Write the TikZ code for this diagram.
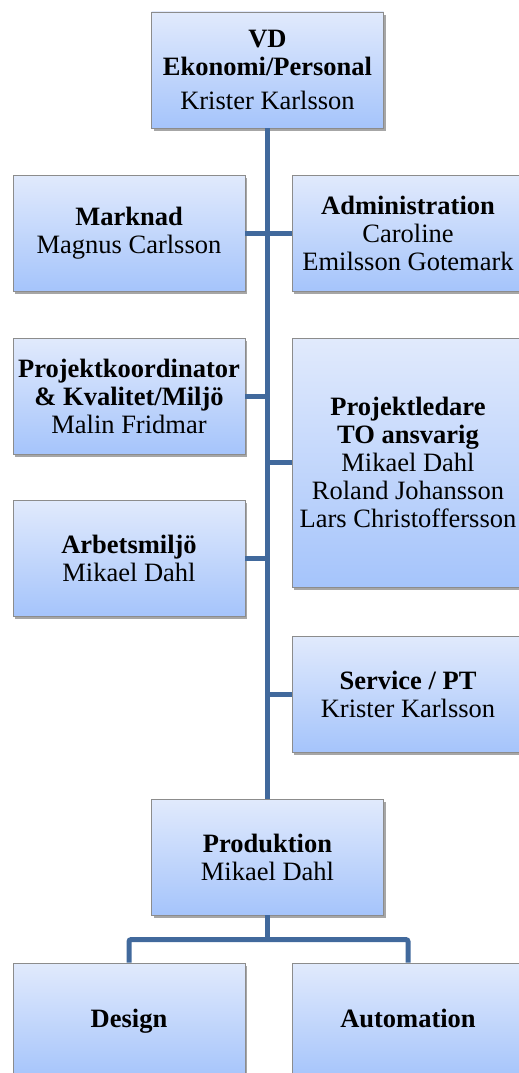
\documentclass[tikz,border=0pt]{standalone}
\usepackage{fontspec}
\setmainfont{Liberation Serif}
\usetikzlibrary{shadows}

\definecolor{boxtop}{RGB}{225,234,252}
\definecolor{boxbot}{RGB}{165,196,251}
\definecolor{tieblue}{RGB}{65,105,156}

\begin{document}
\begin{tikzpicture}[x=1pt,y=-1pt,
    unit/.style={draw=black!45, line width=0.8pt, rectangle, minimum width=232pt, minimum height=116pt,
      top color=boxtop, bottom color=boxbot, align=center, inner sep=1pt,
      font=\fontsize{26.5}{28}\selectfont,
      drop shadow={shadow xshift=2pt, shadow yshift=-3pt, opacity=0.35, fill=black}},
    tall/.style={unit, minimum height=249pt},
    single/.style={unit, text height=18pt, text depth=6pt},
    tie/.style={draw=tieblue, line width=5pt}]
    \useasboundingbox (0,0) rectangle (519,1073);
    \clip (0,0) rectangle (519,1073);

    \node[unit] (vd) at (267.5,70) {\textbf{VD}\\\textbf{Ekonomi/Personal}\\[6pt]Krister Karlsson};
    \node[unit] (mark) at (129,233) {\textbf{Marknad}\\Magnus Carlsson};
    \node[unit] (admin) at (408,233) {\textbf{Administration}\\Caroline\\Emilsson Gotemark};
    \node[unit] (proj) at (129,396) {\textbf{Projektkoordinator}\\\textbf{\& Kvalitet/Miljö}\\Malin Fridmar};
    \node[tall] (ledare) at (408,462.5) {\textbf{Projektledare}\\\textbf{TO ansvarig}\\Mikael Dahl\\Roland Johansson\\Lars Christoffersson};
    \node[unit] (miljo) at (129,558) {\textbf{Arbetsmiljö}\\Mikael Dahl};
    \node[unit] (serv) at (408,694) {\textbf{Service / PT}\\Krister Karlsson};
    \node[unit] (prod) at (267.5,857) {\textbf{Produktion}\\Mikael Dahl};
    \node[single] (design) at (129,1021) {\textbf{Design}};
    \node[single] (auto) at (408,1021) {\textbf{Automation}};

   \begin{scope}[tie]
    \draw (vd.south) -- (prod.north);
    \draw (mark.east) -- (admin.west);
    \draw (proj.east) -- (proj.east -| vd.south);
    \draw (ledare.west) -- (ledare.west -| vd.south);
    \draw (miljo.east) -- (miljo.east -| vd.south);
    \draw (serv.west) -- (serv.west -| vd.south);
    \draw (prod.south) -- ++(0,25);
    \draw[rounded corners=2pt] (design.north) -- ++(0,-23) -| (auto.north);
   \end{scope}
\end{tikzpicture}
\end{document}
